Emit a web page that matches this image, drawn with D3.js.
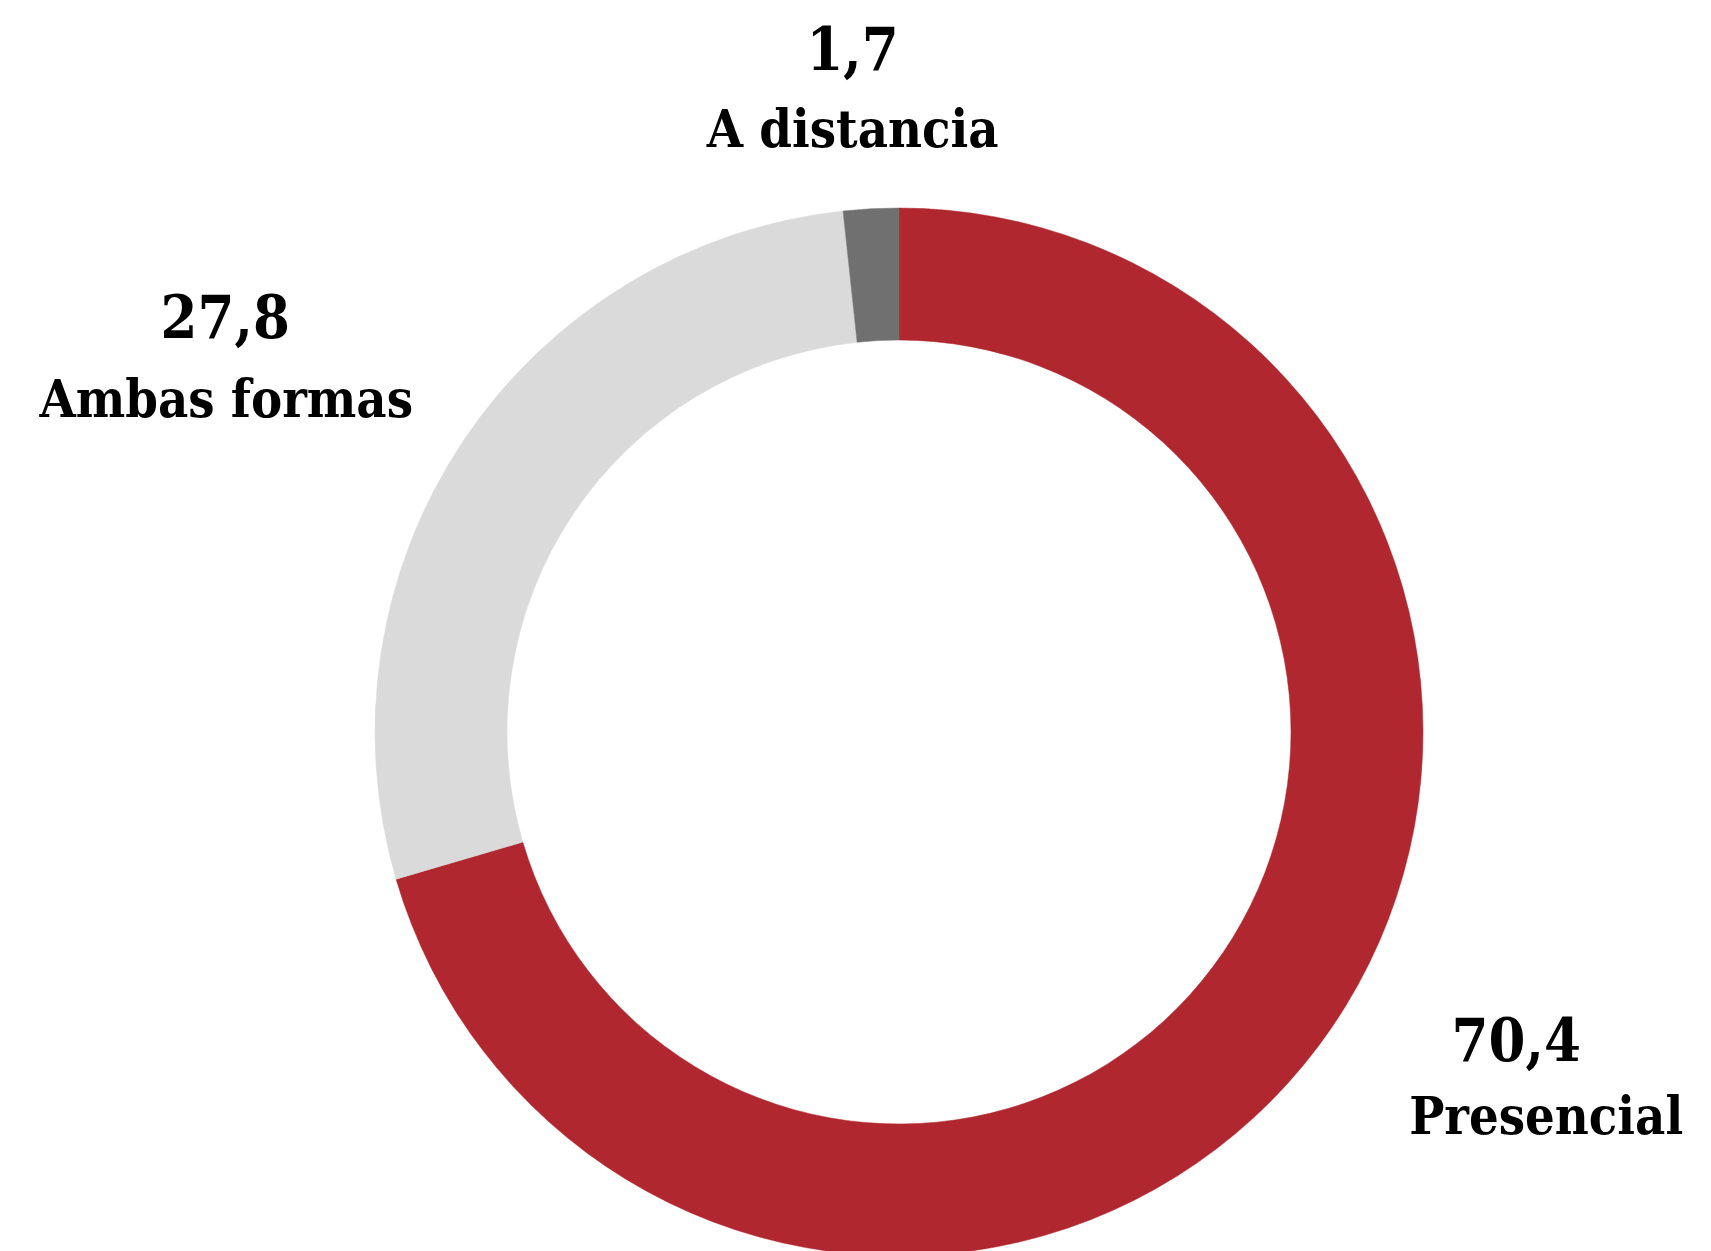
<!DOCTYPE html>
<html>
<head>
<meta charset="utf-8">
<script src="https://cdn.jsdelivr.net/npm/d3@7"></script>
<style>
  html, body { margin: 0; padding: 0; background: #ffffff; overflow: hidden; }
  svg { display: block; }
  text { font-family: "DejaVu Serif", "Liberation Serif", serif; font-weight: bold; fill: #000; }
</style>
</head>
<body>
<svg id="chart" width="1711" height="1251"></svg>
<script>
// ---- data ----
const categories = ["Presencial", "Ambas formas", "A distancia"];
const values = [70.4, 27.8, 1.7];
const valueLabels = ["70,4", "27,8", "1,7"];
const colors = ["#B0272F", "#DADADA", "#707070"];

// ---- layout (not data) ----
const W = 1711, H = 1251;
const cx = 899, cy = 732;
const outerR = 524, innerR = 392;
const labelR = 700;
// per-label tweaks relative to the label-arc centroid
const labelOffsets = [
  { dx: 57, dy: -91, nameDx: 30, gap: 73 },
  { dx: -92, dy: -5, nameDx: 1, gap: 79 },
  { dx: -9, dy: 37, nameDx: 0, gap: 77 }
];

const data = categories.map((c, i) => ({ category: c, value: values[i], label: valueLabels[i], color: colors[i], off: labelOffsets[i] }));

const svg = d3.select("#chart");
const g = svg.append("g").attr("transform", `translate(${cx},${cy})`);

const pie = d3.pie().value(d => d.value).sort(null);
const arc = d3.arc().innerRadius(innerR).outerRadius(outerR);
const labelArc = d3.arc().innerRadius(labelR).outerRadius(labelR);

const arcs = pie(data);

g.selectAll("path.slice")
  .data(arcs)
  .join("path")
  .attr("class", "slice")
  .attr("d", arc)
  .attr("fill", d => d.data.color)
  .attr("stroke", d => d.data.color)
  .attr("stroke-width", 0.5);

const lbl = g.selectAll("g.lbl")
  .data(arcs)
  .join("g")
  .attr("class", "lbl")
  .attr("transform", d => {
    const [x, y] = labelArc.centroid(d);
    return `translate(${x + d.data.off.dx},${y + d.data.off.dy})`;
  });

lbl.append("text")
  .attr("text-anchor", "middle")
  .style("font-size", "59px")
  .style("font-stretch", "condensed")
  .text(d => d.data.label);

lbl.append("text")
  .attr("text-anchor", "middle")
  .attr("x", d => d.data.off.nameDx)
  .attr("y", d => d.data.off.gap)
  .style("font-size", "52px")
  .style("font-stretch", "condensed")
  .text(d => d.data.category);
</script>
</body>
</html>
